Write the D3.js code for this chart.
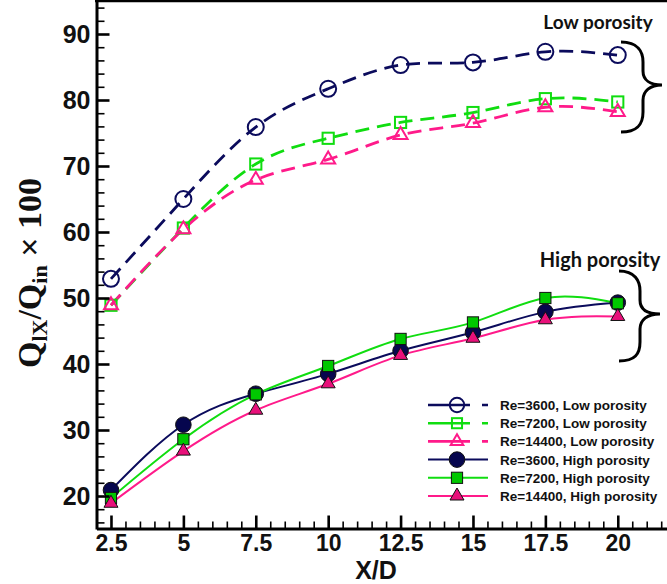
<!DOCTYPE html>
<html><head><meta charset="utf-8">
<script src="https://cdn.jsdelivr.net/npm/d3@7"></script>
<style>
html,body{margin:0;padding:0;background:#fff;}
svg{display:block;}
</style></head>
<body>
<svg id="chart" width="667" height="584"></svg>
<script>
// ---- data ----
const xValues = [2.5, 5, 7.5, 10, 12.5, 15, 17.5, 20];
const xTickLabels = ["2.5", "5", "7.5", "10", "12.5", "15", "17.5", "20"];
const yTickValues = [20, 30, 40, 50, 60, 70, 80, 90];
const lowRe3600  = [52.9, 65.0, 75.9, 81.7, 85.3, 85.7, 87.3, 86.8];
const lowRe7200  = [48.9, 60.6, 70.3, 74.2, 76.6, 78.1, 80.2, 79.7];
const lowRe14400 = [48.9, 60.4, 67.9, 71.0, 74.7, 76.5, 78.9, 78.2];
const highRe3600  = [20.9, 30.8, 35.5, 38.5, 42.0, 44.8, 47.9, 49.3];
const highRe7200  = [19.7, 28.6, 35.4, 39.7, 43.8, 46.3, 50.0, 49.2];
const highRe14400 = [18.9, 26.8, 33.0, 37.0, 41.3, 43.9, 46.7, 47.2];
const seriesNames = ["Re=3600, Low porosity","Re=7200, Low porosity","Re=14400, Low porosity",
                     "Re=3600, High porosity","Re=7200, High porosity","Re=14400, High porosity"];

const NAVY = "#0b0b5c", GREEN = "#10dd10", PINK = "#ff1a8a";
const series = [
  {name: seriesNames[0], vals: lowRe3600,  color: NAVY,  shape: "circle",   open: true},
  {name: seriesNames[1], vals: lowRe7200,  color: GREEN, shape: "square",   open: true},
  {name: seriesNames[2], vals: lowRe14400, color: PINK,  shape: "triangle", open: true},
  {name: seriesNames[3], vals: highRe3600,  color: NAVY,  fill: "#06064e", shape: "circle",   open: false},
  {name: seriesNames[4], vals: highRe7200,  color: GREEN, fill: "#00c800", shape: "square",   open: false},
  {name: seriesNames[5], vals: highRe14400, color: PINK,  fill: "#e8107a", shape: "triangle", open: false}
];

const svg = d3.select("#chart");
const x = d3.scaleLinear().domain([2, 21.7]).range([96.5, 667]);
const y = d3.scaleLinear().domain([15, 95]).range([529, 1]);

// ---- lines ----
const line = d3.line().x((d,i)=>x(xValues[i])).y(d=>y(d)).curve(d3.curveNatural);
const gLines = svg.append("g");
series.forEach(s=>{
  gLines.append("path").attr("d", line(s.vals)).attr("fill","none")
    .attr("stroke", s.color).attr("stroke-width", s.open?2.8:2)
    .attr("stroke-dasharray", s.open ? "14,8" : null);
});

// ---- markers ----
function drawMarker(g, s, cx, cy, scale){
  scale = scale||1;
  const stroke = s.open ? s.color : "#111";
  const fill = s.open ? "none" : s.fill;
  const sw = s.open ? 2 : 1;
  if (s.shape==="circle"){
    g.append("circle").attr("cx",cx).attr("cy",cy).attr("r",(s.open?8:7.8)*scale)
      .attr("fill",fill).attr("stroke",stroke).attr("stroke-width",sw);
  } else if (s.shape==="square"){
    const h = 5.6*scale;
    g.append("rect").attr("x",cx-h).attr("y",cy-h).attr("width",2*h).attr("height",2*h)
      .attr("fill",fill).attr("stroke",stroke).attr("stroke-width",sw);
  } else {
    const w = 7*scale, hh = 12*scale;
    const pts = [[cx, cy-hh*2/3],[cx+w, cy+hh/3],[cx-w, cy+hh/3]];
    g.append("path").attr("d","M"+pts.map(p=>p.join(",")).join("L")+"Z")
      .attr("fill",fill).attr("stroke",stroke).attr("stroke-width",sw).attr("stroke-linejoin","miter");
  }
}
const gMarks = svg.append("g");
series.forEach(s=>{
  s.vals.forEach((v,i)=> drawMarker(gMarks, s, x(xValues[i]), y(v)));
});

// ---- axes ----
const font = "'Liberation Sans', Arial, sans-serif";
const yMinor = d3.range(16, 95, 2).filter(v=>v%10!==0);
const xMinor = d3.range(2.5, 21.6, 0.5).filter(v=>Math.abs(v/2.5-Math.round(v/2.5))>1e-6);

const gy = svg.append("g").attr("transform","translate(96.5,0)");
gy.call(d3.axisLeft(y).tickValues(yTickValues).tickSize(-13).tickSizeOuter(0).tickPadding(6).tickFormat(d3.format("d")));
gy.append("g").call(d3.axisLeft(y).tickValues(yMinor).tickSize(-8).tickSizeOuter(0).tickFormat(""))
  .call(g=>g.select(".domain").remove());
gy.selectAll(".tick line").attr("stroke","#000");
gy.selectAll(".tick").filter(d=>yTickValues.includes(d)).select("line").attr("stroke-width",2.6);
gy.selectAll(".tick").filter(d=>!yTickValues.includes(d)).select("line").attr("stroke-width",1.6);
gy.select(".domain").attr("stroke","#000").attr("stroke-width",3);
gy.selectAll("text").attr("font-family",font).attr("font-weight","bold").attr("font-size",25).attr("fill","#111");

const gx = svg.append("g").attr("transform","translate(0,528.5)");
gx.call(d3.axisBottom(x).tickValues(xValues).tickSize(-13).tickSizeOuter(0).tickPadding(6)
  .tickFormat((d,i)=>xTickLabels[i]));
gx.append("g").call(d3.axisBottom(x).tickValues(xMinor).tickSize(-7).tickSizeOuter(0).tickFormat(""))
  .call(g=>g.select(".domain").remove());
gx.selectAll(".tick line").attr("stroke","#000");
gx.selectAll(".tick").filter(d=>xValues.includes(d)).select("line").attr("stroke-width",2.6);
gx.selectAll(".tick").filter(d=>!xValues.includes(d)).select("line").attr("stroke-width",1.6);
gx.select(".domain").attr("stroke","#000").attr("stroke-width",3);
gx.selectAll("text").attr("font-family",font).attr("font-weight","bold").attr("font-size",23).attr("fill","#111");

// top frame line
svg.append("line").attr("x1",95).attr("x2",667).attr("y1",y(95)).attr("y2",y(95))
  .attr("stroke","#000").attr("stroke-width",2.6);

// axis titles
svg.append("text").attr("x",376).attr("y",578.5).attr("text-anchor","middle")
  .attr("font-family",font).attr("font-weight","bold").attr("font-size",25).attr("fill","#111").text("X/D");

const serif = "'Liberation Serif', 'Times New Roman', serif";
const yt = svg.append("text").attr("transform","translate(41,273) rotate(-90)").attr("text-anchor","middle")
  .attr("font-family",serif).attr("font-weight","bold").attr("font-size",34).attr("fill","#111");
yt.append("tspan").text("Q");
yt.append("tspan").attr("font-size",22).attr("dy",6).text("lX");
yt.append("tspan").attr("dy",-6).text("/Q");
yt.append("tspan").attr("font-size",22).attr("dy",6).text("in");
yt.append("tspan").attr("dy",-6).text(" \u00d7 100");

// ---- annotations ----
const annFont = "Lato, 'Open Sans', sans-serif";
svg.append("text").attr("x",598).attr("y",29).attr("text-anchor","middle")
  .attr("font-family",annFont).attr("font-weight","bold").attr("font-size",19).attr("fill","#111").text("Low porosity");
svg.append("text").attr("x",600).attr("y",267).attr("text-anchor","middle")
  .attr("font-family",annFont).attr("font-weight","bold").attr("font-size",20).attr("fill","#111").text("High porosity");
svg.append("path").attr("d","M621,42 C638,42 643,52 643,62 L643,71 C643,80 650,85 662,85 C650,85 643,91 643,100 L643,112 C643,124 638,132 621,132")
  .attr("fill","none").attr("stroke","#000").attr("stroke-width",3);
svg.append("path").attr("d","M619,271 C635,271 640,281 640,291 L640,300 C640,309 647,314 660,314 C647,314 640,320 640,329 L640,342 C640,354 635,361 619,361")
  .attr("fill","none").attr("stroke","#000").attr("stroke-width",3);

// ---- legend ----
const legY0 = 405, legDy = 18.2;
const gl = svg.append("g");
series.forEach((s,i)=>{
  const yy = legY0 + i*legDy;
  gl.append("line").attr("x1",428).attr("x2",488).attr("y1",yy).attr("y2",yy)
    .attr("stroke",s.color).attr("stroke-width",s.open?2.6:2)
    .attr("stroke-dasharray", s.open ? "42,12,6" : null);
  drawMarker(gl, s, 457, yy, s.open?0.9:1);
  gl.append("text").attr("x",500).attr("y",yy+5).attr("font-family",font).attr("font-weight","bold")
    .attr("font-size",13.5).attr("fill","#111").text(s.name);
});
</script>
</body></html>
